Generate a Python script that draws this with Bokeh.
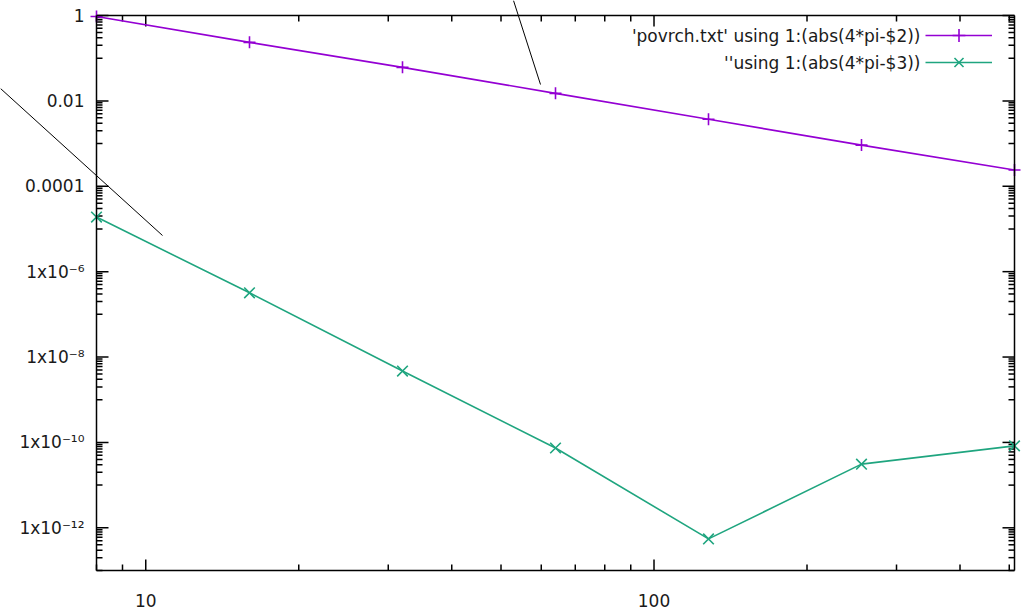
import math

from bokeh.plotting import figure
from bokeh.models import Range1d, LogAxis, FixedTicker, Arrow, Legend, LegendItem, Label
from bokeh.embed import file_html
from bokeh.resources import INLINE

# Subdivision count N and the absolute error of the surface estimate
n = [8, 16, 32, 64, 128, 256, 512]
err_col2 = [0.95, 0.235, 0.061, 0.015, 0.0037, 0.00092, 0.00024]
err_col3 = [1.9e-5, 3.2e-7, 4.7e-9, 7.4e-11, 5.5e-13, 3.1e-11, 8.3e-11]

label_col2 = "'povrch.txt' using 1:(abs(4*pi-$2))"
label_col3 = "''using 1:(abs(4*pi-$3))"

# Axis ticks
x_major = [10, 100]
x_major_labels = ["10", "100"]
x_minor = [8, 9, 20, 30, 40, 50, 60, 70, 80, 90, 200, 300, 400, 500]
y_major = [1, 1e-2, 1e-4, 1e-6, 1e-8, 1e-10, 1e-12]
y_major_labels = ["1", "0.01", "0.0001", "1x10\u207b\u2076", "1x10\u207b\u2078",
                  "1x10\u207b\u00b9\u2070", "1x10\u207b\u00b9\u00b2"]
y_minor = [k * 10.0 ** e for e in (-1, -3, -5, -7, -9, -11, -13) for k in range(1, 10)]

X_LO, X_HI = 8, 512
Y_LO, Y_HI = 1e-13, 1

# Page size and the pixel edges of the plot box inside it
W, H = 1024, 609
BOX_L, BOX_R, BOX_T, BOX_B = 96, 1014, 15, 570

FONT = "DejaVu Sans"
TEXT_COLOR = "#1a1a1a"
PURPLE = "#9400d3"
GREEN = "#1fa57f"

lg = math.log10
x_per_px = (lg(X_HI) - lg(X_LO)) / (BOX_R - BOX_L)
y_per_px = (lg(Y_HI) - lg(Y_LO)) / (BOX_B - BOX_T)


def px_x(px):
    return 10 ** (lg(X_LO) + (px - BOX_L) * x_per_px)


def px_y(py):
    return 10 ** (lg(Y_HI) - (py - BOX_T) * y_per_px)


# The frame spans the whole page; the box is drawn by axes pinned to the data limits
p = figure(width=W, height=H, x_axis_type="log", y_axis_type="log",
           x_axis_location=None, y_axis_location=None,
           x_range=Range1d(px_x(0), px_x(W)), y_range=Range1d(px_y(H), px_y(0)),
           output_backend="svg", toolbar_location=None,
           min_border=0, min_border_left=0, min_border_right=0,
           min_border_top=0, min_border_bottom=0)
p.xgrid.visible = False
p.ygrid.visible = False
p.outline_line_color = None
p.background_fill_color = "white"
p.border_fill_color = "white"


def make_axis(ticks, labels, bounds, loc, standoff):
    ax = LogAxis(ticker=FixedTicker(ticks=ticks, minor_ticks=[]),
                 bounds=bounds, fixed_location=loc)
    ax.major_tick_in = 0
    ax.major_tick_out = 0
    ax.minor_tick_in = 0
    ax.minor_tick_out = 0
    ax.axis_line_color = "black"
    ax.axis_line_width = 1.5
    ax.major_label_standoff = standoff
    ax.major_label_text_font = FONT
    ax.major_label_text_font_size = "17px"
    ax.major_label_text_color = TEXT_COLOR
    if labels:
        ax.major_label_overrides = dict(zip(ticks, labels))
    return ax


p.add_layout(make_axis(x_major, x_major_labels, (X_LO, X_HI), Y_LO, 23), "below")
p.add_layout(make_axis(y_major, y_major_labels, (Y_LO, Y_HI), X_LO, 12), "left")
p.add_layout(make_axis([], [], (X_LO, X_HI), Y_HI, 0), "above")
p.add_layout(make_axis([], [], (Y_LO, Y_HI), X_HI, 0), "right")

# inward tick marks on all four sides of the box
half_pi = math.pi / 2
for ticks, length in ((x_major, 11), (x_minor, 6)):
    p.ray(x=ticks, y=[Y_LO] * len(ticks), length=length, length_units="screen",
          angle=half_pi, line_color="black", line_width=1.5)
    p.ray(x=ticks, y=[Y_HI] * len(ticks), length=length, length_units="screen",
          angle=-half_pi, line_color="black", line_width=1.5)
for ticks, length in ((y_major, 12), (y_minor, 6)):
    p.ray(x=[X_LO] * len(ticks), y=ticks, length=length, length_units="screen",
          angle=0, line_color="black", line_width=1.5)
    p.ray(x=[X_HI] * len(ticks), y=ticks, length=length, length_units="screen",
          angle=math.pi, line_color="black", line_width=1.5)

l2 = p.line(n, err_col2, line_color=PURPLE, line_width=1.6)
s2 = p.scatter(n, err_col2, marker="cross", size=12, line_color=PURPLE, line_width=1.6)
l3 = p.line(n, err_col3, line_color=GREEN, line_width=1.6)
s3 = p.scatter(n, err_col3, marker="x", size=15, line_color=GREEN, line_width=1.6)

# two thin pointer lines
p.add_layout(Arrow(end=None, x_start=px_x(0), y_start=px_y(88),
                   x_end=px_x(162), y_end=px_y(235), line_color="black", line_width=1))
p.add_layout(Arrow(end=None, x_start=px_x(513), y_start=px_y(0),
                   x_end=px_x(540), y_end=px_y(84), line_color="black", line_width=1))

# key: title text on the left, line sample on the right of each row
KEY_GLYPH_H = 32
for text, row_y, line_r, mark_r in ((label_col2, 35, l2, s2), (label_col3, 62, l3, s3)):
    key = Legend(items=[LegendItem(label=" ", renderers=[line_r, mark_r])],
                 location=(925, H - row_y - KEY_GLYPH_H // 2),
                 glyph_width=67, glyph_height=KEY_GLYPH_H,
                 label_height=KEY_GLYPH_H, label_width=1, label_standoff=0,
                 spacing=0, padding=0, margin=0,
                 border_line_color=None, background_fill_alpha=0,
                 label_text_font_size="1px")
    p.add_layout(key)
    p.add_layout(Label(x=px_x(920), y=px_y(row_y), text=text, text_align="right",
                       text_baseline="middle", text_font=FONT, text_font_size="17px",
                       text_color=TEXT_COLOR))

open("out.html", "w").write(file_html(p, INLINE))
